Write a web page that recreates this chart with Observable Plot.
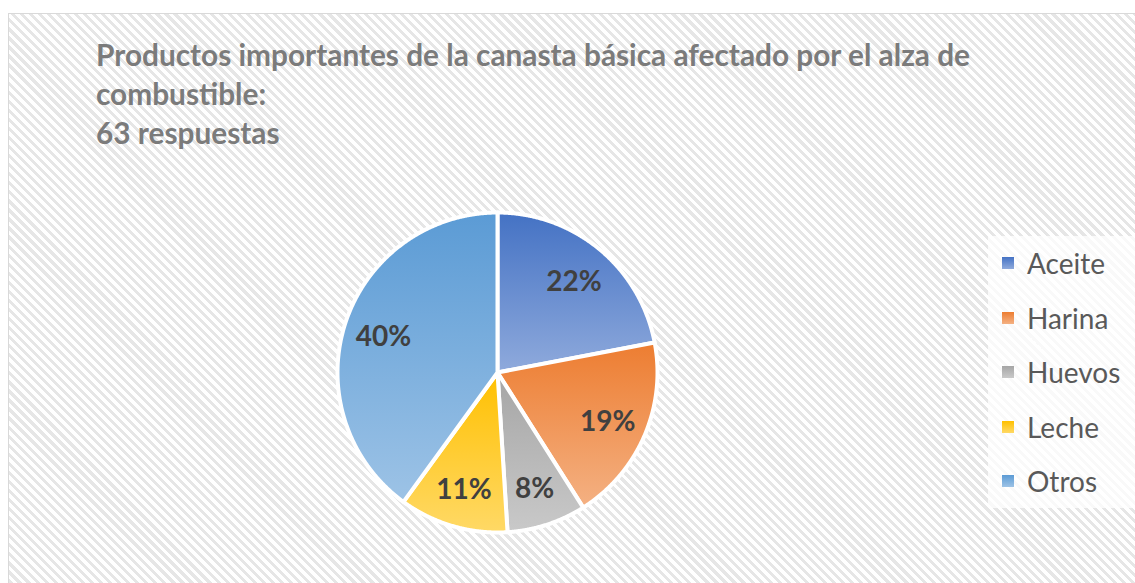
<!DOCTYPE html>
<html>
<head>
<meta charset="utf-8">
<script src="https://cdn.jsdelivr.net/npm/d3@7"></script>
<script src="https://cdn.jsdelivr.net/npm/@observablehq/plot@0.6"></script>
<style>
  body { margin: 0; background: #fff; }
  #wrap { position: relative; width: 1135px; height: 583px; overflow: hidden; font-family: Lato, "Open Sans", sans-serif; }
  #frame { position: absolute; left: 8px; top: 13px; width: 1140px; height: 585px; border: 1px solid #d9d9d9; box-sizing: border-box;
           background: repeating-linear-gradient(45deg, #ffffff 0px, #ffffff 3.4px, #e6e6e6 3.4px, #e6e6e6 6.4px); }
  #title { position: absolute; left: 96px; top: 35px; font-size: 29.8px; line-height: 39px; font-weight: bold; color: #7b7b7b; white-space: nowrap; }
  #legendbg { position: absolute; left: 988px; top: 236px; width: 150px; height: 272px; background: rgba(255,255,255,0.75); }
  .lrow { position: absolute; left: 1002px; height: 30px; display: flex; align-items: center; font-size: 28px; color: #595959; }
  .lsw { width: 12px; height: 12px; margin-right: 13px; }
  #pie { position: absolute; left: 327px; top: 202px; }
</style>
</head>
<body>
<div id="wrap">
  <div id="frame"></div>
  <div id="title"></div>
  <div id="legendbg"></div>
  <div id="legend"></div>
  <div id="pie"></div>
</div>
<script>
const categories = ["Aceite", "Harina", "Huevos", "Leche", "Otros"];
const percents = [22, 19, 8, 11, 40];
const gradTop = ["#4472C4", "#ED7D31", "#A5A5A5", "#FFC000", "#5B9BD5"];
const gradBottom = ["#8FAADC", "#F4B183", "#C9C9C9", "#FFD966", "#9DC3E6"];
const titleLines = ["Productos importantes de la canasta básica afectado por el alza de", "combustible:", "63 respuestas"];

// Title
document.getElementById("title").innerHTML = titleLines.map(t => `<div>${t}</div>`).join("");

// Legend
const legendCenters0 = 263, legendStep = 54.5;
document.getElementById("legend").innerHTML = categories.map((c, i) =>
  `<div class="lrow" style="top:${legendCenters0 + i * legendStep - 15}px"><div class="lsw" style="background:linear-gradient(${gradTop[i]}, ${gradBottom[i]})"></div>${c}</div>`
).join("");

// Pie geometry from data
const data = categories.map((c, i) => ({cat: c, value: percents[i]}));
const arcs = d3.pie().sort(null).value(d => d.value).startAngle(0).endAngle(2 * Math.PI)(data);
const points = [];
for (const a of arcs) {
  points.push({cat: a.data.cat, x: 0, y: 0});
  const n = Math.max(2, Math.ceil((a.endAngle - a.startAngle) / 0.005));
  for (let k = 0; k <= n; k++) {
    const t = a.startAngle + (a.endAngle - a.startAngle) * k / n;
    points.push({cat: a.data.cat, x: Math.sin(t), y: Math.cos(t)});
  }
  points.push({cat: a.data.cat, x: 0, y: 0});
}
const labelR = 0.75;
const labels = arcs.map(a => {
  const m = (a.startAngle + a.endAngle) / 2;
  return {x: labelR * Math.sin(m), y: labelR * Math.cos(m), text: a.data.value + "%"};
});

const R = 170 / 160;
const svg = Plot.plot({
  width: 340, height: 340, margin: 0,
  x: {domain: [-R, R], axis: null},
  y: {domain: [-R, R], axis: null},
  color: {domain: categories, range: categories.map((c, i) => `url(#grad${i})`)},
  style: {background: "transparent", fontFamily: "Lato, 'Open Sans', sans-serif", overflow: "visible"},
  marks: [
    Plot.line(points, {x: "x", y: "y", z: "cat", fill: "cat", stroke: "white", strokeWidth: 4, strokeLinejoin: "round"}),
    Plot.text(labels, {x: "x", y: "y", text: "text", fontSize: 28, fontWeight: "bold", fill: "#404040", dy: 2})
  ]
});
const defs = categories.map((c, i) =>
  `<linearGradient id="grad${i}" x1="0" y1="0" x2="0" y2="1"><stop offset="0" stop-color="${gradTop[i]}"/><stop offset="1" stop-color="${gradBottom[i]}"/></linearGradient>`
).join("");
svg.insertAdjacentHTML("afterbegin", `<defs>${defs}</defs>`);
document.getElementById("pie").appendChild(svg);
</script>
</body>
</html>
